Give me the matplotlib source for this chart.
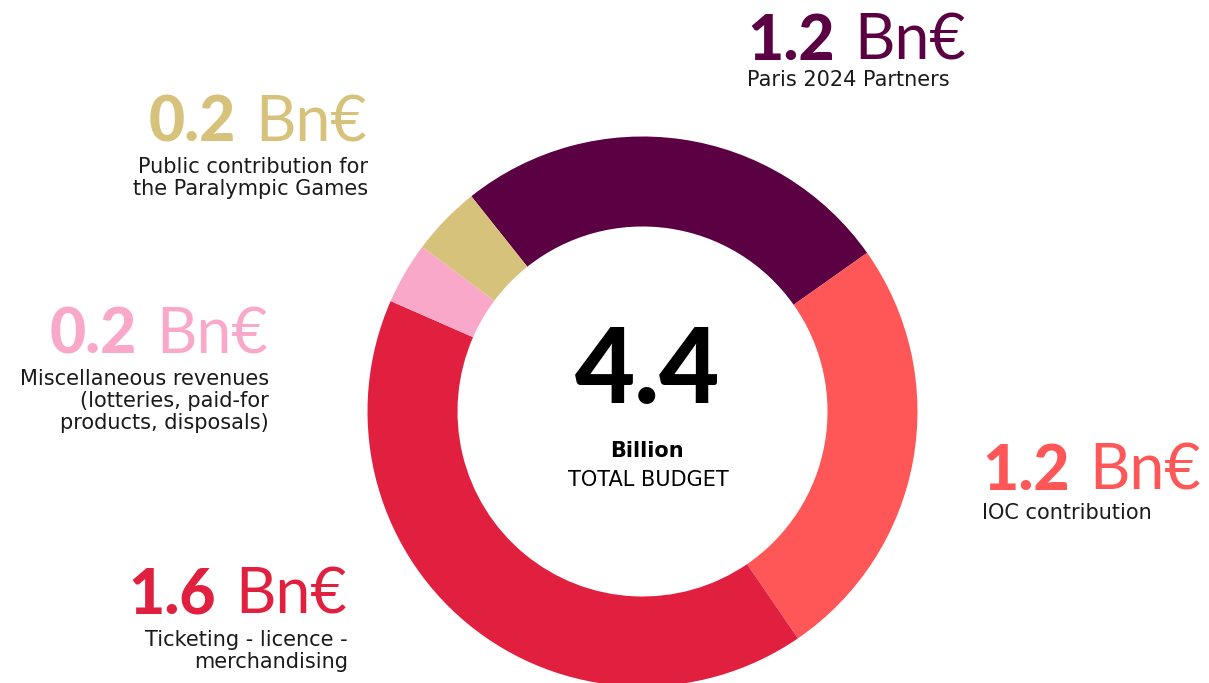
import matplotlib
matplotlib.use("Agg")
import matplotlib.pyplot as plt

# Paris 2024 budget - donut, clockwise from the top-left
categories = ["Paris 2024 Partners", "IOC contribution", "Ticketing - licence - merchandising",
              "Miscellaneous revenues", "Public contribution for the Paralympic Games"]
shares = [1.14, 1.11, 1.81, 0.16, 0.18]      # wedge sizes (Bn€)
amounts = ["1.2", "1.2", "1.6", "0.2", "0.2"]  # printed labels
colors = ["#5a0043", "#ff5757", "#e1203f", "#f9a8c9", "#d6c27a"]
captions = ["Paris 2024 Partners",
            "IOC contribution",
            "Ticketing - licence -\nmerchandising",
            "Miscellaneous revenues\n(lotteries, paid-for\nproducts, disposals)",
            "Public contribution for\nthe Paralympic Games"]
total = "4.4"

W, H = 1209, 683
plt.rcParams['font.family'] = ['Lato', 'DejaVu Sans']
small_font = ['DejaVu Sans']

fig = plt.figure(figsize=(W / 100, H / 100), dpi=100)
ax = fig.add_axes([0, 0, 1, 1])


def py(y):
    # pixel row from the top -> data y
    return H - y


ax.pie(shares, colors=colors, startangle=128.5, counterclock=False,
       radius=275, center=(642.5, py(411.5)),
       wedgeprops=dict(width=90, linewidth=0))
ax.set_xlim(0, W)
ax.set_ylim(0, H)
ax.set_aspect('equal')
ax.axis('off')

# label anchors: (x, number baseline, side, baseline of the last caption line)
anchors = [(747, 60, 'left', 86),
           (982, 490, 'left', 519),
           (347, 614, 'right', 668),
           (268, 353, 'right', 429),
           (367, 142, 'right', 195)]

big = 45
small = 15
gap = 14  # points between number and "Bn€"

for amt, col, cap, (x, yb, side, yc) in zip(amounts, colors, captions, anchors):
    if side == 'left':
        num = ax.text(x, py(yb), amt, color=col, fontsize=big, fontweight='black',
                      ha='left', va='baseline')
        ax.annotate("Bn€", xy=(1, 0), xycoords=num, xytext=(gap, 0),
                    textcoords='offset points', color=col, fontsize=big,
                    ha='left', va='bottom')
    else:
        bn = ax.text(x, py(yb), "Bn€", color=col, fontsize=big,
                     ha='right', va='baseline')
        ax.annotate(amt, xy=(0, 0), xycoords=bn, xytext=(-gap, 0),
                    textcoords='offset points', color=col, fontsize=big,
                    fontweight='black', ha='right', va='bottom')
    ax.text(x + (1 if side == 'right' else 0), py(yc), cap, color='#1a1a1a',
            fontsize=small, family=small_font, ha=side, va='baseline',
            multialignment=side, linespacing=1.12)

# center
ax.text(648, py(403), total, fontsize=75, fontweight='black', color='black',
        ha='center', va='baseline')
ax.text(647, py(457), "Billion", fontsize=small, fontweight='bold', color='black',
        family=small_font, ha='center', va='baseline')
ax.text(648, py(486), "TOTAL BUDGET", fontsize=small, color='black',
        family=small_font, ha='center', va='baseline')

fig.savefig("out.png", dpi=100, facecolor='white')
